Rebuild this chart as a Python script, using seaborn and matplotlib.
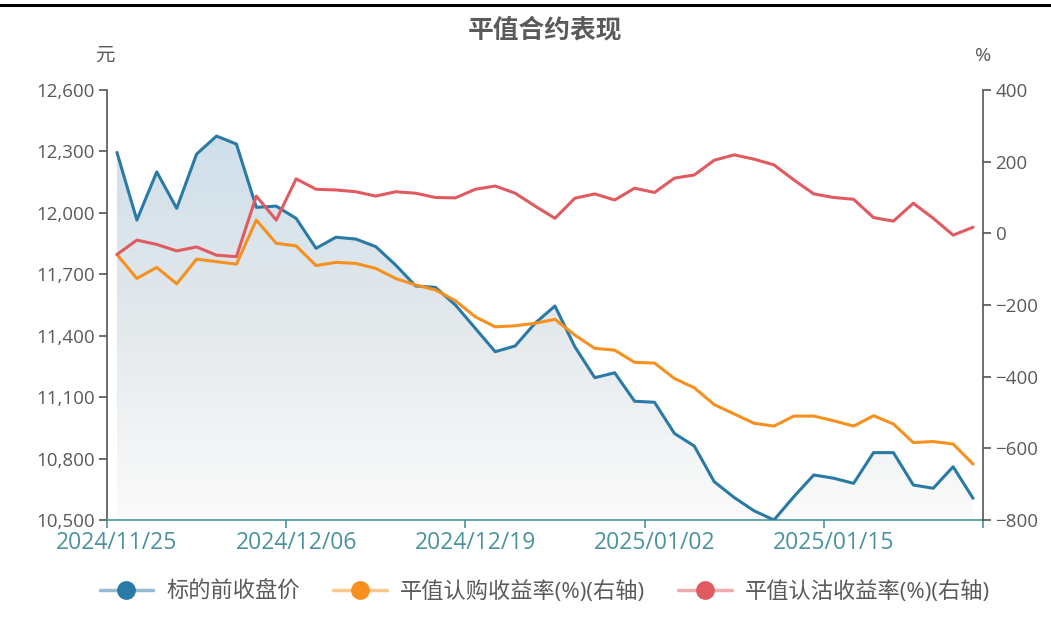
import matplotlib
matplotlib.use("Agg")
import matplotlib.pyplot as plt
import numpy as np
import pandas as pd
import seaborn as sns
from matplotlib.colors import LinearSegmentedColormap
from matplotlib.lines import Line2D
from matplotlib.ticker import FuncFormatter, FixedLocator

# trading days shown on the category axis
dates = [
    "2024/11/25", "2024/11/26", "2024/11/27", "2024/11/28", "2024/11/29",
    "2024/12/02", "2024/12/03", "2024/12/04", "2024/12/05", "2024/12/06",
    "2024/12/09", "2024/12/10", "2024/12/11", "2024/12/12", "2024/12/13",
    "2024/12/16", "2024/12/17", "2024/12/18", "2024/12/19", "2024/12/20",
    "2024/12/23", "2024/12/24", "2024/12/25", "2024/12/26", "2024/12/27",
    "2024/12/30", "2024/12/31", "2025/01/02", "2025/01/03", "2025/01/06",
    "2025/01/07", "2025/01/08", "2025/01/09", "2025/01/10", "2025/01/13",
    "2025/01/14", "2025/01/15", "2025/01/16", "2025/01/17", "2025/01/20",
    "2025/01/21", "2025/01/22", "2025/01/23", "2025/01/24",
]

# 标的前收盘价 (元, left axis)
close_prev = [
    12295, 11965, 12200, 12022, 12287, 12375, 12336, 12027, 12033, 11973,
    11827, 11881, 11872, 11835, 11745, 11643, 11636, 11550, 11436, 11322,
    11350, 11461, 11545, 11346, 11195, 11219, 11080, 11075, 10923, 10861,
    10687, 10610, 10545, 10500, 10614, 10720, 10704, 10679, 10829, 10829,
    10671, 10655, 10760, 10606,
]

# 平值认购收益率 (%, right axis)
call_ret = [
    -59, -126, -95, -141, -72, -79, -86, 37, -28, -35,
    -90, -81, -84, -98, -126, -144, -158, -188, -233, -261,
    -258, -251, -240, -284, -321, -326, -360, -362, -405, -431,
    -478, -504, -530, -538, -510, -510, -523, -538, -509, -532,
    -584, -581, -588, -644,
]

# 平值认沽收益率 (%, right axis)
put_ret = [
    -59, -19, -31, -49, -38, -61, -65, 104, 37, 152,
    123, 121, 116, 104, 116, 112, 100, 99, 123, 132,
    112, 76, 42, 98, 110, 93, 126, 114, 154, 163,
    204, 219, 207, 191, 149, 110, 100, 95, 44, 34,
    84, 42, -5, 17,
]

series_names = ["标的前收盘价", "平值认购收益率(%)(右轴)", "平值认沽收益率(%)(右轴)"]
colors = ["#2a7aa6", "#f7901e", "#e05a60"]
axis_teal = "#4a939e"
text_gray = "#5a5a5a"

df = pd.DataFrame({
    "idx": np.arange(len(dates)),
    "date": dates,
    "close": close_prev,
    "call": call_ret,
    "put": put_ret,
})

sns.set_theme(style="white")
plt.rcParams["font.family"] = ["Open Sans", "Noto Sans CJK SC", "DejaVu Sans"]

fig = plt.figure(figsize=(10.51, 6.37), dpi=100)
ax = fig.add_axes([107 / 1051, 1 - 520 / 637, 876 / 1051, 430 / 637])
ax2 = ax.twinx()

# left axis: price line with gradient area
sns.lineplot(data=df, x="idx", y="close", ax=ax, color=colors[0], linewidth=2.2, zorder=3)
poly = ax.fill_between(df["idx"], df["close"], 10500, color="none", linewidth=0)
grad_cmap = LinearSegmentedColormap.from_list("area", ["#fbfbfb", "#e4e9ec", "#cfdfea"])
grad = np.linspace(0, 1, 256).reshape(-1, 1)
im = ax.imshow(grad, cmap=grad_cmap, origin="lower", aspect="auto",
               extent=[0, len(dates) - 1, 10500, max(close_prev)], zorder=1)
im.set_clip_path(poly.get_paths()[0], transform=ax.transData)

# right axis: option returns
sns.lineplot(data=df, x="idx", y="call", ax=ax2, color=colors[1], linewidth=2.2)
sns.lineplot(data=df, x="idx", y="put", ax=ax2, color=colors[2], linewidth=2.2)

ax.set_xlim(-0.5, len(dates) - 0.5)
ax.set_ylim(10500, 12600)
ax2.set_ylim(-800, 400)
ax.set_yticks(np.arange(10500, 12601, 300))
ax2.set_yticks(np.arange(-800, 401, 200))
ax.yaxis.set_major_formatter(FuncFormatter(lambda v, p: f"{int(v):,}"))

label_idx = [0, 9, 18, 27, 36]
ax.set_xticks(label_idx)
ax.set_xticklabels([dates[i] for i in label_idx])
ax.xaxis.set_minor_locator(FixedLocator([-0.5, 8.5, 17.5, 26.5, 35.5, len(dates) - 0.5]))
ax.tick_params(axis="x", which="major", length=0, pad=8, labelsize=16.5, labelcolor=axis_teal)
ax.tick_params(axis="x", which="minor", length=6, width=1.2, color=axis_teal, direction="out", bottom=True)
ax.tick_params(axis="y", length=6, width=1.2, color="#555555", direction="out", left=True,
               labelsize=13.5, labelcolor=text_gray, pad=3)
ax2.tick_params(axis="y", length=6, width=1.2, color="#555555", direction="out", right=True,
                labelsize=13.5, labelcolor=text_gray, pad=3)

for a in (ax, ax2):
    a.set_xlabel("")
    a.set_ylabel("")
    a.grid(False)
    a.spines["top"].set_visible(False)
ax.spines["right"].set_visible(False)
ax.spines["left"].set_color("#555555")
ax.spines["left"].set_linewidth(1.2)
ax.spines["bottom"].set_color(axis_teal)
ax.spines["bottom"].set_linewidth(1.2)
ax2.spines["left"].set_visible(False)
ax2.spines["bottom"].set_visible(False)
ax2.spines["right"].set_color("#555555")
ax2.spines["right"].set_linewidth(1.2)

# titles and units
fig.text(545 / 1051, 1 - 30 / 637, "平值合约表现", ha="center", va="center",
         fontsize=18.5, fontweight="bold", color=text_gray)
fig.text(105 / 1051, 1 - 56 / 637, "元", ha="center", va="center", fontsize=14, color=text_gray)
fig.text(983 / 1051, 1 - 56 / 637, "%", ha="center", va="center", fontsize=14, color=text_gray)

# top border line
fig.add_artist(Line2D([0, 1], [1 - 5 / 637, 1 - 5 / 637], color="black", linewidth=2.2,
                      transform=fig.transFigure))

# legend: light line with a solid circle on top
handles = []
for c in colors:
    line = Line2D([], [], color=c, alpha=0.5, linewidth=2.5)
    dot = Line2D([], [], color=c, marker="o", markersize=12.5, linestyle="none")
    handles.append((line, dot))
fig.legend(handles, series_names, loc="center", bbox_to_anchor=(545 / 1051, 1 - 592 / 637),
           ncol=3, frameon=False, fontsize=16, labelcolor=text_gray, handlelength=2.4,
           columnspacing=1.5, handletextpad=0.6)

fig.savefig("out.png", dpi=100, facecolor="white")
plt.close(fig)
